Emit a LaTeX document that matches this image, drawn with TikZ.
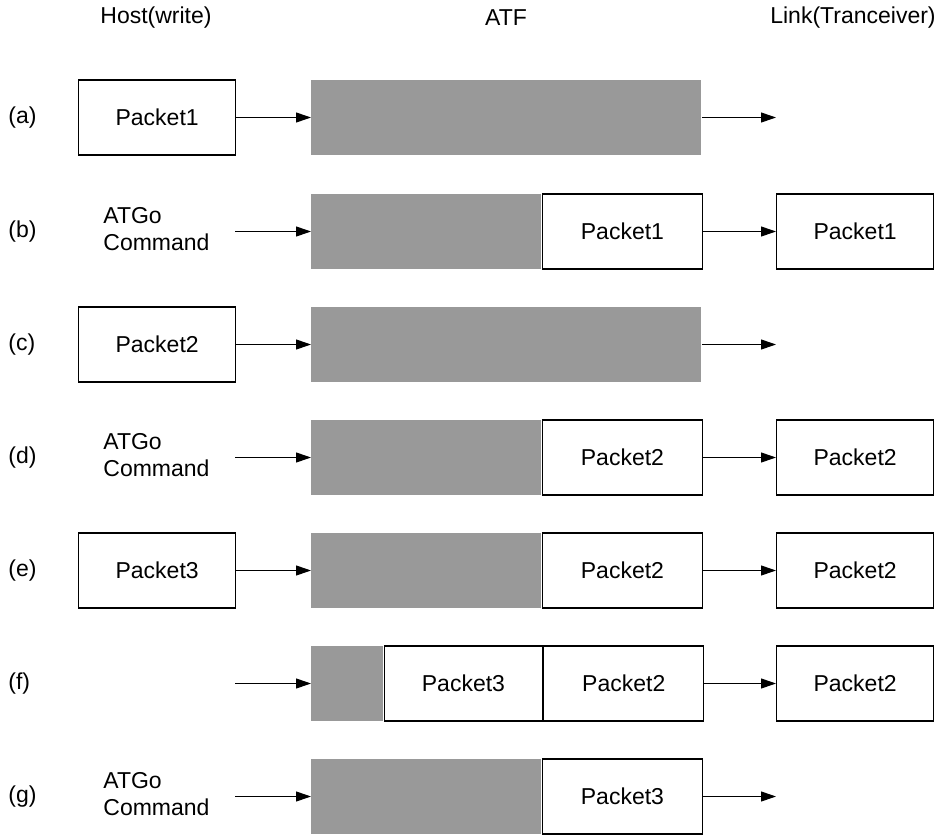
\documentclass[tikz,border=0pt]{standalone}
\usepackage{fontspec}
\setmainfont{Liberation Sans}
\definecolor{atfGray}{RGB}{153, 153, 153}
\usetikzlibrary{positioning, arrows.meta}

\begin{document}
\begin{tikzpicture}[
      x=0.5pt, y=-0.5pt,
      font=\fontsize{11.5}{13.5}\selectfont,
      node distance=0pt,
      pkt/.style={rectangle, draw=black, line width=0.65pt, fill=white, minimum width=78.5pt, minimum height=37.5pt, inner sep=0pt},
      atf/.style={rectangle, fill=atfGray, minimum height=37.5pt, inner sep=0pt},
      arrow/.style={-{Triangle[length=7.5pt, width=5pt]}, line width=0.5pt},
      rowlbl/.style={anchor=west, inner sep=0pt},
      cmd/.style={anchor=west, align=left, inner sep=0pt}
    ]
      \useasboundingbox (0,0) rectangle (944,835);

      % column headings
      \node (hhost) at (156,18) {Host(write)};
      \node (hatf) at (506,18) {ATF};
      \node (hlink) at (853,18) {Link(Tranceiver)};

      % (a)
      \node[rowlbl] (la) at (8,117.5) {(a)};
      \node[pkt, anchor=west] (ha) at (78,117.5) {Packet1};
      \node[atf, minimum width=195pt, anchor=west] (fa) at (311,117.5) {};
      \coordinate (oa) at (776,117.5);
      \draw[arrow] (ha) -- (fa);
      \draw[arrow] (fa) -- (oa);

      % (b)
      \node[rowlbl] (lb) at (8,231.5) {(b)};
      \node[cmd] (hb) at (103,229.5) {ATGo\\Command};
      \coordinate (ib) at (235,231.5);
      \node[atf, minimum width=115pt, anchor=west] (fb) at (311,231.5) {};
      \node[pkt, minimum width=80pt, right=of fb] (qb) {Packet1};
      \node[pkt, anchor=west] (kb) at (776,231.5) {Packet1};
      \draw[arrow] (ib) -- (fb);
      \draw[arrow] (qb) -- (kb);

      % (c)
      \node[rowlbl] (lc) at (8,344.5) {(c)};
      \node[pkt, anchor=west] (hc) at (78,344.5) {Packet2};
      \node[atf, minimum width=195pt, anchor=west] (fc) at (311,344.5) {};
      \coordinate (oc) at (776,344.5);
      \draw[arrow] (hc) -- (fc);
      \draw[arrow] (fc) -- (oc);

      % (d)
      \node[rowlbl] (ld) at (8,457.5) {(d)};
      \node[cmd] (hd) at (103,455.5) {ATGo\\Command};
      \coordinate (id) at (235,457.5);
      \node[atf, minimum width=115pt, anchor=west] (fd) at (311,457.5) {};
      \node[pkt, minimum width=80pt, right=of fd] (qd) {Packet2};
      \node[pkt, anchor=west] (kd) at (776,457.5) {Packet2};
      \draw[arrow] (id) -- (fd);
      \draw[arrow] (qd) -- (kd);

      % (e)
      \node[rowlbl] (le) at (8,570.5) {(e)};
      \node[pkt, anchor=west] (he) at (78,570.5) {Packet3};
      \node[atf, minimum width=115pt, anchor=west] (fe) at (311,570.5) {};
      \node[pkt, minimum width=80pt, right=of fe] (qe) {Packet2};
      \node[pkt, anchor=west] (ke) at (776,570.5) {Packet2};
      \draw[arrow] (he) -- (fe);
      \draw[arrow] (qe) -- (ke);

      % (f)
      \node[rowlbl] (lf) at (8,683.5) {(f)};
      \coordinate (if) at (235,683.5);
      \node[atf, minimum width=36pt, anchor=west] (ff) at (311,683.5) {};
      \node[pkt, minimum width=79pt, right=of ff] (pf) {Packet3};
      \node[pkt, minimum width=80pt, right=of pf] (qf) {Packet2};
      \node[pkt, anchor=west] (kf) at (776,683.5) {Packet2};
      \draw[arrow] (if) -- (ff);
      \draw[arrow] (qf) -- (kf);

      % (g)
      \node[rowlbl] (lg) at (8,796.5) {(g)};
      \node[cmd] (hg) at (103,794.5) {ATGo\\Command};
      \coordinate (ig) at (235,796.5);
      \node[atf, minimum width=115pt, anchor=west] (fg) at (311,796.5) {};
      \node[pkt, minimum width=80pt, right=of fg] (qg) {Packet3};
      \coordinate (og) at (776,796.5);
      \draw[arrow] (ig) -- (fg);
      \draw[arrow] (qg) -- (og);
    \end{tikzpicture}
\end{document}
